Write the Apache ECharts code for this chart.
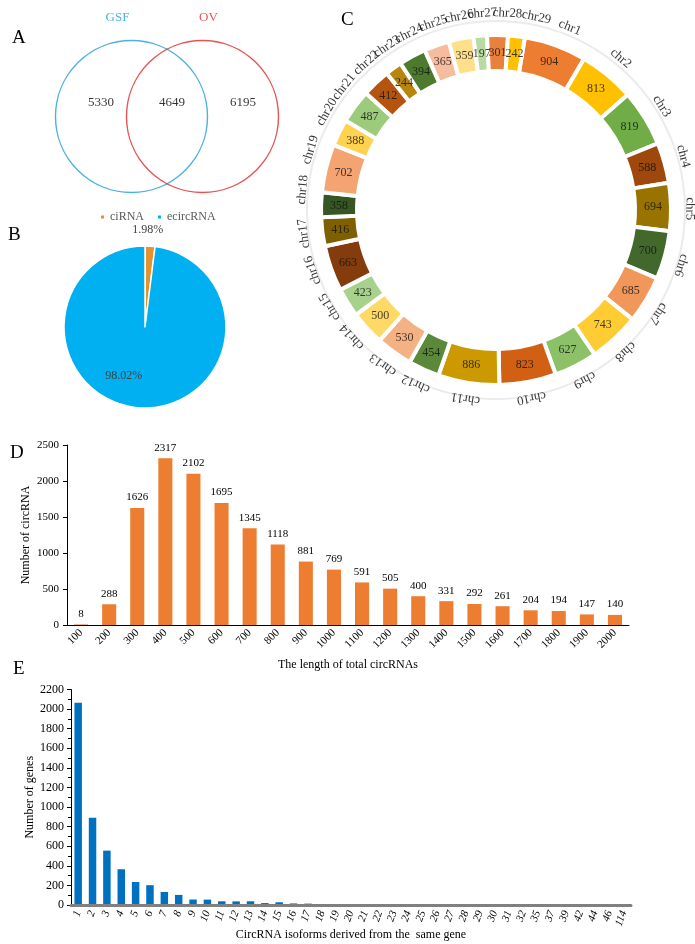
<!DOCTYPE html>
<html><head><meta charset="utf-8">
<script src="https://cdn.jsdelivr.net/npm/echarts@6/dist/echarts.min.js"></script>
<style>html,body{margin:0;padding:0;background:#fff}#c{width:695px;height:944px}</style>
</head><body><div id="c"></div>
<script>
// ---- Panel A: Venn ----
const vennSets = ['GSF', 'OV'];
const vennSetColors = ['#1F9ED9', '#E0282A'];
const vennCounts = [5330, 4649, 6195];
// ---- Panel B: pie ----
const pieNames = ['ciRNA', 'ecircRNA'];
const pieValues = [1.98, 98.02];
const pieColors = ['#E4922E', '#00B0F0'];
// ---- Panel C: circos ring ----
const chrNames = ['chr1','chr2','chr3','chr4','chr5','chr6','chr7','chr8','chr9','chr10','chr11','chr12','chr13','chr14','chr15','chr16','chr17','chr18','chr19','chr20','chr21','chr22','chr23','chr24','chr25','chr26','chr27','chr28','chr29'];
const chrCounts = [904,813,819,588,694,700,685,743,627,823,886,454,530,500,423,663,416,358,702,388,487,412,244,394,365,359,197,301,242];
const chrColors = ['#ED7D31','#FFC000','#70AD47','#9E480E','#997300','#43682B','#F1975A','#FFCD33','#8CC168','#D26012','#CC9A00','#5A8A39','#F4B183','#FFD966','#A9D18E','#843C0C','#7F6000','#375623','#F3A470','#FFD34F','#9CCB7C','#B5540F','#B8860B','#4E7A2E','#F5BC9E','#FFE08A','#B7DBA0','#E9803B','#FFC000'];
// label spreading of crowded chromosome names (degrees, layout only)
const chrNameNudgeDeg = [2.5,0.5,0.5,0.5,1.5,2.5,2.5,1,0,0,0,0,0,0.5,1,0.5,-0.7,3.4,3.3,3,2,1.4,1.7,2,1,0.6,1.2,2.9,5.3];
// ---- Panel D ----
const lengthCats = ['100','200','300','400','500','600','700','800','900','1000','1100','1200','1300','1400','1500','1600','1700','1800','1900','2000'];
const lengthCounts = [8,288,1626,2317,2102,1695,1345,1118,881,769,591,505,400,331,292,261,204,194,147,140];
// ---- Panel E ----
const isoformCats = ['1','2','3','4','5','6','7','8','9','10','11','12','13','14','15','16','17','18','19','20','21','22','23','24','25','26','27','28','29','30','31','32','35','37','39','42','44','46','114'];
const isoformCounts = [2065,890,555,365,235,202,133,103,56,55,38,37,38,20,28,16,14,10,3,2,5,2,2,1,1,1,1,1,1,1,1,1,1,1,1,1,1,1,1];

const serif = 'Liberation Serif';

// circos: angular positions come from the cumulative counts (polar angle axis = counts)
const chrTotal = chrCounts.reduce((a, b) => a + b, 0);
const chrStartDeg = 9.5; // clockwise from 12 o'clock
const chrMid = [];
let cum = 0;
chrCounts.forEach(v => { chrMid.push(cum + v / 2); cum += v; });
const RING_VALUE_R = 157, RING_NAME_R = 194;
const chrNameData = chrMid.map((m, i) => {
  const a = m + chrNameNudgeDeg[i] * chrTotal / 360;
  return { value: [RING_NAME_R, a], label: { formatter: chrNames[i], rotate: -(chrStartDeg + 360 * a / chrTotal) } };
});
const chrValueData = chrMid.map((m, i) => ({ value: [RING_VALUE_R, m], label: { formatter: String(chrCounts[i]) } }));

const letter = (t, left, top) => ({ text: t, left: left, top: top, textStyle: { fontFamily: serif, fontSize: 19, fontWeight: 'normal', color: '#000' } });
const plain = v => String(v);

const chart = echarts.init(document.getElementById('c'), null, { renderer: 'canvas' });
chart.setOption({
  backgroundColor: '#fff',
  animation: false,
  title: [letter('A', 7, 24), letter('B', 3, 221), letter('C', 336, 6), letter('D', 5, 439), letter('E', 8, 655)],
  legend: {
    data: pieNames, left: 94, top: 206, icon: 'rect', itemWidth: 5, itemHeight: 5, itemGap: 12,
    textStyle: { fontFamily: serif, fontSize: 12, color: '#595959' }
  },
  polar: [{ center: [496, 210], radius: 204 }, { center: [496, 207], radius: 204 }],
  angleAxis: [
    { polarIndex: 0, type: 'value', min: 0, max: chrTotal, startAngle: 90 - chrStartDeg, clockwise: true, show: false },
    { polarIndex: 1, type: 'value', min: 0, max: chrTotal, startAngle: 90 - chrStartDeg, clockwise: true, show: false }
  ],
  radiusAxis: [
    { polarIndex: 0, type: 'value', min: 0, max: 204, show: false },
    { polarIndex: 1, type: 'value', min: 0, max: 204, show: false }
  ],
  grid: [
    { left: 60.5, top: 41.5, width: 213, height: 150, show: false },
    { left: 67, top: 445, width: 562, height: 180 },
    { left: 71, top: 689.5, width: 560, height: 215.5 }
  ],
  xAxis: [
    { gridIndex: 0, type: 'value', min: -0.5, max: 2.5, show: false },
    { gridIndex: 1, type: 'category', data: lengthCats,
      axisLine: { lineStyle: { color: '#000', width: 1 } }, axisTick: { show: false },
      axisLabel: { rotate: 45, fontFamily: serif, fontSize: 11, color: '#000', margin: 6, interval: 0 },
      name: 'The length of total circRNAs', nameLocation: 'middle', nameGap: 34, nameMoveOverlap: false,
      nameTextStyle: { fontFamily: serif, fontSize: 12, color: '#000' } },
    { gridIndex: 2, type: 'category', data: isoformCats, z: 5,
      axisLine: { lineStyle: { color: '#808080', width: 3 } }, axisTick: { show: false },
      axisLabel: { rotate: 70, fontFamily: serif, fontSize: 11, fontStyle: 'italic', color: '#000', margin: 6, interval: 0 },
      name: 'CircRNA isoforms derived from the  same gene', nameLocation: 'middle', nameGap: 24, nameMoveOverlap: false,
      nameTextStyle: { fontFamily: serif, fontSize: 12, color: '#000' } }
  ],
  yAxis: [
    { gridIndex: 0, type: 'value', min: -1, max: 1, show: false },
    { gridIndex: 1, type: 'value', min: 0, max: 2500, interval: 500,
      axisLine: { show: true, lineStyle: { color: '#000' } },
      axisTick: { show: true, length: 4, lineStyle: { color: '#000' } },
      splitLine: { show: false },
      axisLabel: { fontFamily: serif, fontSize: 11, color: '#000', margin: 8, formatter: plain },
      name: 'Number of circRNA', nameLocation: 'middle', nameGap: 35, nameRotate: 90, nameMoveOverlap: false,
      nameTextStyle: { fontFamily: serif, fontSize: 12, color: '#000' } },
    { gridIndex: 2, type: 'value', min: 0, max: 2200, interval: 200,
      axisLine: { show: true, lineStyle: { color: '#000' } },
      axisTick: { show: true, length: 4, lineStyle: { color: '#000' } },
      minorTick: { show: true, splitNumber: 2, length: 3, lineStyle: { color: '#000' } },
      splitLine: { show: false },
      axisLabel: { fontFamily: serif, fontSize: 12, color: '#000', margin: 7, formatter: plain },
      name: 'Number of genes', nameLocation: 'middle', nameGap: 35, nameRotate: 90, nameMoveOverlap: false,
      nameTextStyle: { fontFamily: serif, fontSize: 12, color: '#000' } }
  ],
  series: [
    // Venn circles (one per set, centred between the regions it covers)
    { type: 'scatter', xAxisIndex: 0, yAxisIndex: 0, symbol: 'circle', symbolSize: 152, silent: true,
      data: vennSets.map((s, i) => ({ name: s, value: [i + 0.5, 0],
        itemStyle: { color: 'rgba(0,0,0,0)', borderColor: vennSetColors[i], borderWidth: 1.4 },
        label: { show: true, position: 'top', distance: 16, formatter: s, offset: [i === 0 ? -14 : 6, 0],
          fontFamily: serif, fontSize: 13, color: vennSetColors[i] } })) },
    // Venn region counts
    { type: 'scatter', xAxisIndex: 0, yAxisIndex: 0, symbolSize: 0, silent: true,
      data: vennCounts.map((c, i) => ({ value: [i, 0.18] })),
      label: { show: true, position: 'inside', formatter: p => String(vennCounts[p.dataIndex]), offset: [5, 0],
        fontFamily: serif, fontSize: 13, color: '#000' } },
    // Panel B pie
    { type: 'pie', center: [145, 327], radius: 81, startAngle: 90, clockwise: true, silent: true,
      itemStyle: { borderColor: '#fff', borderWidth: 1.5 },
      labelLine: { show: false },
      data: pieNames.map((n, i) => ({ name: n, value: pieValues[i], itemStyle: { color: pieColors[i] },
        label: { show: true, position: 'inside', formatter: pieValues[i].toFixed(2) + '%',
          offset: i === 0 ? [0, -53.5] : [-18.5, 5.5], fontFamily: serif, fontSize: 12, color: '#404040' } })) },
    // Panel C outer thin circle
    { type: 'pie', center: [496, 210], radius: [188, 190], silent: true, label: { show: false }, labelLine: { show: false },
      data: [{ name: 'genome', value: chrTotal, itemStyle: { color: '#EBEBEB' } }] },
    // Panel C ring segments
    { type: 'pie', center: [496, 210], radius: [139, 175], startAngle: 90 - chrStartDeg, clockwise: true, silent: true,
      itemStyle: { borderColor: '#fff', borderWidth: 4 }, labelLine: { show: false }, label: { show: false },
      data: chrCounts.map((v, i) => ({ name: chrNames[i], value: v, itemStyle: { color: chrColors[i] } })) },
    // Panel C segment counts
    { type: 'scatter', coordinateSystem: 'polar', polarIndex: 0, symbolSize: 0, silent: true, z: 5,
      data: chrValueData,
      label: { show: true, position: 'inside', fontFamily: serif, fontSize: 12, color: '#111' } },
    // Panel C chromosome names (tangential)
    { type: 'scatter', coordinateSystem: 'polar', polarIndex: 1, symbolSize: 0, silent: true, z: 5,
      data: chrNameData,
      label: { show: true, position: 'inside', fontFamily: serif, fontSize: 13, color: '#000' } },
    // Panel D bars
    { type: 'bar', xAxisIndex: 1, yAxisIndex: 1, data: lengthCounts, barWidth: '50%',
      itemStyle: { color: '#ED7D31' },
      label: { show: true, position: 'top', distance: 5, fontFamily: serif, fontSize: 11, color: '#000' } },
    // Panel E bars
    { type: 'bar', xAxisIndex: 2, yAxisIndex: 2, data: isoformCounts, barWidth: '52%',
      itemStyle: { color: '#0070C0' } }
  ]
});
</script></body></html>
